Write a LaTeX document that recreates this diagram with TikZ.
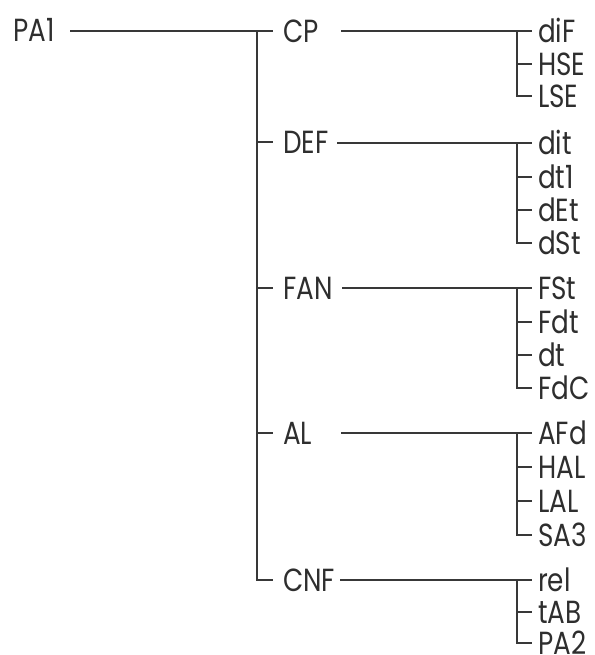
\documentclass[tikz,border=0pt]{standalone}
\usepackage{fontspec}
\setmainfont[FakeStretch=0.82]{Poppins}
\newlength\capht
\settoheight\capht{\fontsize{32}{32}\selectfont H}
\begin{document}
\begin{tikzpicture}[x=1pt,y=-1pt,
  every node/.style={font=\fontsize{32}{32}\selectfont, text=black!82, inner ysep=0pt, text height=\capht, text depth=0pt},
  root/.style={anchor=west, inner xsep=0pt},
  mid/.style={anchor=west, inner xsep=10pt},
  leaf/.style={anchor=west, inner xsep=6pt},
  conn/.style={draw=black!78, line width=1.7pt}]
\useasboundingbox (0,0) rectangle (594,655);
% root and level 1
\node[root] (PA1) at (13,30) {PA1};
\node[mid] (CP)  at (273,31)  {CP};
\node[mid] (DEF) at (273,142) {DEF};
\node[mid] (FAN) at (273,288) {FAN};
\node[mid] (AL)  at (273,433) {AL};
\node[mid] (CNF) at (273,580) {CNF};
\coordinate (r0) at (70,31);
\coordinate (rb) at (257,31);
% leaves
\node[leaf] (diF) at (532,31) {diF};
\node[leaf] (HSE) at (532,64) {HSE};
\node[leaf] (LSE) at (532,96) {LSE};
\node[leaf] (dit) at (532,143) {dit};
\node[leaf] (dt1) at (532,177) {dt1};
\node[leaf] (dEt) at (532,210) {dEt};
\node[leaf] (dSt) at (532,243) {dSt};
\node[leaf] (FSt) at (532,288) {FSt};
\node[leaf] (Fdt) at (532,322) {Fdt};
\node[leaf] (dt)  at (532,355) {dt};
\node[leaf] (FdC) at (532,388) {FdC};
\node[leaf] (AFd) at (532,433) {AFd};
\node[leaf] (HAL) at (532,467) {HAL};
\node[leaf] (LAL) at (532,501) {LAL};
\node[leaf] (SA3) at (532,535) {SA3};
\node[leaf] (rel) at (532,580) {rel};
\node[leaf] (tAB) at (532,612) {tAB};
\node[leaf] (PA2) at (532,643) {PA2};
% level-1 connectors
\draw[conn] (r0) -- (CP.west);
\draw[conn] (rb) |- (CNF.west);
\foreach \n in {DEF,FAN,AL} \draw[conn] (rb |- \n.west) -- (\n.west);
% level-2 start points and bars
\coordinate (CPo)  at (341,31);  \coordinate (CPb)  at (517,31);
\coordinate (DEFo) at (337,143); \coordinate (DEFb) at (517,143);
\coordinate (FANo) at (342,288); \coordinate (FANb) at (517,288);
\coordinate (ALo)  at (341,433); \coordinate (ALb)  at (517,433);
\coordinate (CNFo) at (340,580); \coordinate (CNFb) at (517,580);
\draw[conn] (CPo) -- (diF.west);
\draw[conn] (CPb) |- (LSE.west);
\draw[conn] (CPb |- HSE.west) -- (HSE.west);
\draw[conn] (DEFo) -- (dit.west);
\draw[conn] (DEFb) |- (dSt.west);
\foreach \n in {dt1,dEt} \draw[conn] (DEFb |- \n.west) -- (\n.west);
\draw[conn] (FANo) -- (FSt.west);
\draw[conn] (FANb) |- (FdC.west);
\foreach \n in {Fdt,dt} \draw[conn] (FANb |- \n.west) -- (\n.west);
\draw[conn] (ALo) -- (AFd.west);
\draw[conn] (ALb) |- (SA3.west);
\foreach \n in {HAL,LAL} \draw[conn] (ALb |- \n.west) -- (\n.west);
\draw[conn] (CNFo) -- (rel.west);
\draw[conn] (CNFb) |- (PA2.west);
\draw[conn] (CNFb |- tAB.west) -- (tAB.west);
\end{tikzpicture}
\end{document}
